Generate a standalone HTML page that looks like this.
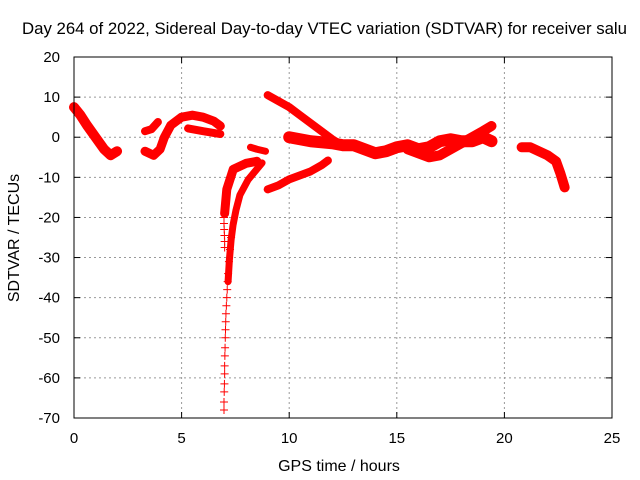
<!DOCTYPE html>
<html><head><meta charset="utf-8"><style>
html,body{margin:0;padding:0;background:#fff;}
svg{display:block;font-family:"Liberation Sans",sans-serif;}
</style></head><body>
<svg id="chart" width="640" height="480">
<text x="22" y="34" font-size="16.8" text-anchor="start">Day 264 of 2022, Sidereal Day-to-day VTEC variation (SDTVAR) for receiver salu</text>
<text x="339" y="471" font-size="16" text-anchor="middle">GPS time / hours</text>
<text transform="translate(19,238) rotate(-90)" font-size="16" text-anchor="middle">SDTVAR / TECUs</text>
<g id="grid"></g><g id="marks"></g><g id="ticks"></g>
<rect x="74" y="57" width="538" height="361" fill="none" stroke="#000" stroke-width="1"/>
</svg>
<script>
const xTicks=[0,5,10,15,20,25];
const yTicks=[20,10,0,-10,-20,-30,-40,-50,-60,-70];
const track1=[[0,7.5],[0.3,5.5],[0.6,3],[1,0],[1.4,-3],[1.7,-4.5],[2.0,-3.5]];
const track2=[[3.3,-3.5],[3.7,-4.5],[4.0,-3],[4.2,0],[4.5,3],[5,5],[5.5,5.5],[6,5],[6.5,4],[6.8,2.8]];
const track3=[[3.3,1.5],[3.6,2],[3.9,3.8]];
const track4=[[5.3,2.2],[6,1.5],[6.8,0.8]];
const track5=[[7.0,-19],[7.1,-13],[7.4,-8],[8.0,-6.5],[8.5,-6]];
const track6=[[7.16,-36],[7.22,-30.6],[7.3,-25.6],[7.39,-21.9],[7.53,-18.1],[7.71,-14.4],[8.09,-10.6],[8.46,-8.2],[8.74,-6.4]];
const track7=[[8.2,-2.5],[8.5,-3],[8.9,-3.5]];
const track8=[[9,-13],[9.5,-12],[10,-10.5],[10.5,-9.5],[11,-8.5],[11.5,-7],[11.8,-5.8]];
const track9=[[9,10.5],[9.5,9],[10,7.5],[10.5,5.5],[11,3.5],[11.5,1.5],[12,-0.5],[12.3,-1.5]];
const track10=[[10,0],[10.5,-0.5],[11,-1],[12,-1.5],[12.5,-2],[13,-2],[13.5,-3],[14,-4],[14.5,-3.5],[15,-2.5],[15.5,-2],[16,-3],[16.5,-2.5],[17,-1],[17.5,-0.5],[18,-1],[18.5,-1],[19,0],[19.4,-1]];
const track11=[[15.5,-3],[16,-4],[16.5,-5],[17,-4.5],[17.5,-3],[18,-1.5],[18.5,0],[19,1.5],[19.4,2.8]];
const track12=[[20.8,-2.5],[21.2,-2.5],[21.6,-3.5],[22,-4.5],[22.4,-6],[22.6,-9],[22.8,-12.5]];
const diveT=[6.97,6.97,6.98,6.99,7.0,7.0,7.01,7.02,7.03,7.04,7.05,7.06,7.08,7.1,7.12,7.14,7.16,7.2,7.25,7.3];
const diveV=[-68,-66,-63.5,-61.5,-59,-57,-54.5,-52.5,-50,-48,-46,-44,-42,-40,-38,-36,-34,-31,-28,-25];
const dive2T=[6.97,6.97,6.98,6.99,7.0,7.0];
const dive2V=[-20,-21.5,-23,-24.5,-26,-27.5];
const tracks=[track1,track2,track3,track4,track5,track6,track7,track8,track9,track10,track11,track12];
const widths=[10,9,8,8,9,7,7,8,8,12,10,10];
const X=h=>74+h*538/25, Y=v=>57+(20-v)*361/90;
const NS='http://www.w3.org/2000/svg';
const grid=document.getElementById('grid'),ticks=document.getElementById('ticks'),marks=document.getElementById('marks');
function mk(t,a,p){const e=document.createElementNS(NS,t);for(const k in a)e.setAttribute(k,a[k]);p.appendChild(e);return e;}
xTicks.forEach(t=>{const x=X(t);
 if(t>0&&t<25){const g=mk('line',{x1:x,x2:x,y1:57,y2:418,stroke:'#999','stroke-dasharray':'2,3'},grid);
 
 }
 mk('line',{x1:x,x2:x,y1:418,y2:412,stroke:'#000'},ticks);mk('line',{x1:x,x2:x,y1:57,y2:63,stroke:'#000'},ticks);
 const l=mk('text',{x:x,y:443,'font-size':15,'text-anchor':'middle'},ticks);l.textContent=t;
 
 });
yTicks.forEach(t=>{const y=Y(t);
 if(t>-70&&t<20){const g=mk('line',{x1:74,x2:612,y1:y,y2:y,stroke:'#999','stroke-dasharray':'2,3'},grid);
 
 }
 mk('line',{x1:74,x2:80,y1:y,y2:y,stroke:'#000'},ticks);mk('line',{x1:612,x2:606,y1:y,y2:y,stroke:'#000'},ticks);
 const l=mk('text',{x:60,y:y+5,'font-size':15,'text-anchor':'end'},ticks);l.textContent=t;
 
 });
tracks.forEach((tr,i)=>{
 const p=mk('polyline',{points:tr.map(d=>X(d[0])+','+Y(d[1])).join(' '),fill:'none',stroke:'#f00','stroke-width':widths[i],'stroke-linejoin':'round','stroke-linecap':'round'},marks);
 
 });
function plus(h,v){const x=X(h),y=Y(v);
 const g=mk('path',{d:`M${x-4},${y}H${x+4}M${x},${y-4}V${y+4}`,stroke:'#f00','stroke-width':1},marks);
 
 }
diveT.forEach((h,i)=>plus(h,diveV[i]));
dive2T.forEach((h,i)=>plus(h,dive2V[i]));
</script>
</body></html>
